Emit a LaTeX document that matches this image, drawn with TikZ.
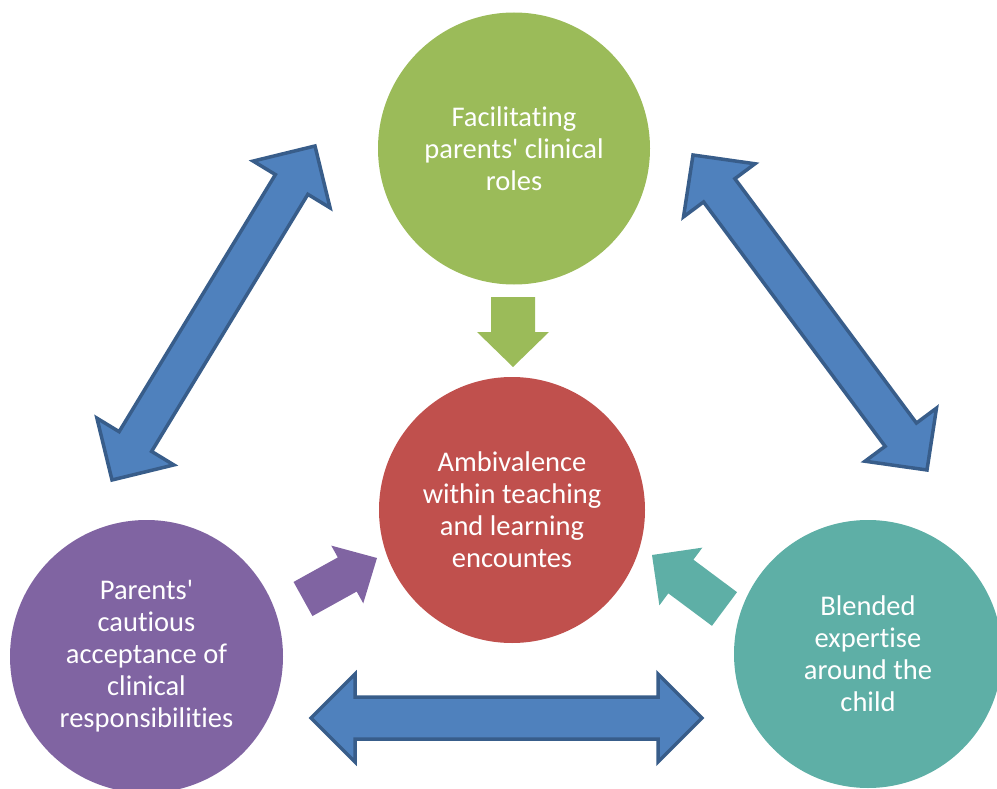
\documentclass[tikz,border=0pt]{standalone}
\usepackage{fontspec}
\setmainfont{Carlito}[Ligatures={NoCommon}]
\usetikzlibrary{calc}
\definecolor{cgreen}{HTML}{9BBB59}
\definecolor{cred}{HTML}{C0504D}
\definecolor{cpurple}{HTML}{8064A2}
\definecolor{cteal}{HTML}{5EAFA6}
\definecolor{cblue}{HTML}{4F81BD}
\definecolor{cblueline}{HTML}{385D8A}
\tikzset{
  circ/.style={circle, inner sep=0pt, text=white, align=center,
    font=\fontsize{28.5}{32}\selectfont},
  blockarrow/.style={fill=cblue, draw=cblueline, line width=3.5pt, line join=miter}
}
% double block arrow between tips #1 and #2; #3 shaft half width, #4 head half width, #5 head length
\newcommand\DblArrow[5]{%
  \coordinate (daP) at ($(#1)!#5!(#2)$);
  \coordinate (daQ) at ($(#2)!#5!(#1)$);
  \draw[blockarrow] (#1) -- ($(daP)!#4!90:(#2)$) -- ($(daP)!#3!90:(#2)$)
    -- ($(daQ)!#3!-90:(#1)$) -- ($(daQ)!#4!-90:(#1)$) -- (#2)
    -- ($(daQ)!#4!90:(#1)$) -- ($(daQ)!#3!90:(#1)$)
    -- ($(daP)!#3!-90:(#2)$) -- ($(daP)!#4!-90:(#2)$) -- cycle;}
% single block arrow from tail #1 to tip #2; #6 colour
\newcommand\SglArrow[6]{%
  \coordinate (saP) at ($(#2)!#5!(#1)$);
  \fill[#6] ($(#1)!#3!-90:(#2)$) -- ($(saP)!#3!90:(#1)$) -- ($(saP)!#4!90:(#1)$)
    -- (#2) -- ($(saP)!#4!-90:(#1)$) -- ($(saP)!#3!-90:(#1)$)
    -- ($(#1)!#3!90:(#2)$) -- cycle;}
\begin{document}
\begin{tikzpicture}[x=1pt,y=-1pt]
\useasboundingbox (0,0) rectangle (997,789);
% circles
\node[circ, fill=cgreen, minimum size=272pt] (fac) at (514,148.5)
  {Facilitating\\parents\textquotesingle{} clinical\\roles};
\node[circ, fill=cred, minimum size=266pt] (amb) at (512,510)
  {Ambivalence\\within teaching\\and learning\\encountes};
\node[circ, fill=cpurple, minimum size=273pt] (par) at (146.5,656.5)
  {Parents\textquotesingle\\cautious\\acceptance of\\clinical\\responsibilities};
\node[circ, fill=cteal, minimum size=268pt] (ble) at (868,654)
  {Blended\\expertise\\around the\\child};
% arrow end points
\coordinate (l1) at (112,480);
\coordinate (l2) at (315,146);
\coordinate (r1) at (693,155);
\coordinate (r2) at (927,470);
\coordinate (b1) at (311,718);
\coordinate (b2) at (702,718);
\coordinate (g1) at (513,297);
\coordinate (g2) at (513,367);
\coordinate (p1) at (303,599);
\coordinate (p2) at (377,558);
\coordinate (t1) at (724.5,609);
\coordinate (t2) at (652,555);
% double arrows
\DblArrow{l1}{l2}{19pt}{45pt}{45pt}
\DblArrow{r1}{r2}{19.5pt}{44.5pt}{44pt}
\DblArrow{b1}{b2}{21pt}{44pt}{44pt}
% single arrows
\SglArrow{g1}{g2}{22pt}{36pt}{35pt}{cgreen}
\SglArrow{p1}{p2}{19.5pt}{33pt}{34pt}{cpurple}
\SglArrow{t1}{t2}{21pt}{36pt}{36pt}{cteal}
\end{tikzpicture}
\end{document}
